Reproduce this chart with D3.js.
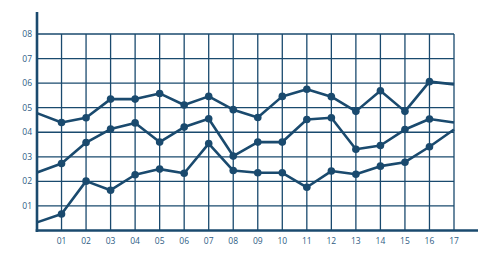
<!DOCTYPE html>
<html>
<head>
<meta charset="utf-8">
<script src="https://cdn.jsdelivr.net/npm/d3@7"></script>
<style>
  html, body { margin: 0; padding: 0; background: #fff; }
  svg { display: block; }
</style>
</head>
<body>
<div id="chart"></div>
<script>
(function () {
  "use strict";

  const xTicks = d3.range(0, 18);
  const xLabels = ["01","02","03","04","05","06","07","08","09","10","11","12","13","14","15","16","17"];
  const yTicks = [1, 2, 3, 4, 5, 6, 7, 8];
  const yLabels = ["01","02","03","04","05","06","07","08"];

  const seriesTop = [4.78, 4.40, 4.59, 5.35, 5.35, 5.58, 5.11, 5.46, 4.92, 4.60, 5.46, 5.75, 5.45, 4.85, 5.69, 4.85, 6.06, 5.95];
  const seriesMid = [2.36, 2.73, 3.58, 4.13, 4.38, 3.60, 4.21, 4.55, 3.03, 3.60, 3.60, 4.52, 4.59, 3.31, 3.46, 4.11, 4.54, 4.40];
  const seriesLow = [0.33, 0.67, 2.01, 1.64, 2.27, 2.50, 2.33, 3.54, 2.44, 2.35, 2.35, 1.76, 2.42, 2.29, 2.62, 2.78, 3.41, 4.11];

  const W = 500, H = 255;
  const COLOR = "#1a4a6e";
  const LABEL = "#2e5c84";

  const svg = d3.select("#chart").append("svg")
    .attr("width", W).attr("height", H);

  const x = d3.scaleLinear().domain([0, 17]).range([37, 454]);
  const y = d3.scaleLinear().domain([0, 8]).range([230.5, 34]);

  // Grid
  const grid = svg.append("g").attr("stroke", COLOR).attr("stroke-width", 1.3);
  grid.selectAll("line.h").data(yTicks).enter().append("line")
    .attr("x1", x(0)).attr("x2", x(17))
    .attr("y1", d => y(d)).attr("y2", d => y(d));
  grid.selectAll("line.v").data(xTicks.slice(1)).enter().append("line")
    .attr("x1", d => x(d)).attr("x2", d => x(d))
    .attr("y1", y(8)).attr("y2", y(0));

  // Axes
  svg.append("line").attr("x1", x(0)).attr("x2", x(0))
    .attr("y1", 12).attr("y2", y(0) + 1.5)
    .attr("stroke", COLOR).attr("stroke-width", 2.6);
  svg.append("line").attr("x1", x(0) - 1.3).attr("x2", 478)
    .attr("y1", y(0)).attr("y2", y(0))
    .attr("stroke", COLOR).attr("stroke-width", 2.6);

  // Tick labels
  svg.append("g").selectAll("text").data(yTicks).enter().append("text")
    .attr("x", 32).attr("y", d => y(d) + 3)
    .attr("text-anchor", "end")
    .attr("font-family", "Open Sans, sans-serif")
    .attr("font-size", 8.5)
    .attr("fill", LABEL)
    .text((d, i) => yLabels[i]);
  svg.append("g").selectAll("text").data(xTicks.slice(1)).enter().append("text")
    .attr("x", d => x(d)).attr("y", 243.5)
    .attr("text-anchor", "middle")
    .attr("font-family", "Open Sans, sans-serif")
    .attr("font-size", 8.5)
    .attr("fill", LABEL)
    .text((d, i) => xLabels[i]);

  // Lines
  const line = d3.line().x((d, i) => x(i)).y(d => y(d));
  [seriesTop, seriesMid, seriesLow].forEach(s => {
    svg.append("path").datum(s)
      .attr("d", line)
      .attr("fill", "none")
      .attr("stroke", COLOR)
      .attr("stroke-width", 2.6)
      .attr("stroke-linejoin", "round");
    svg.append("g").selectAll("circle")
      .data(s.map((v, i) => [i, v]).filter(d => d[0] > 0 && d[0] < 17))
      .enter().append("circle")
      .attr("cx", d => x(d[0])).attr("cy", d => y(d[1]))
      .attr("r", 3.8)
      .attr("fill", COLOR);
  });
})();
</script>
</body>
</html>
